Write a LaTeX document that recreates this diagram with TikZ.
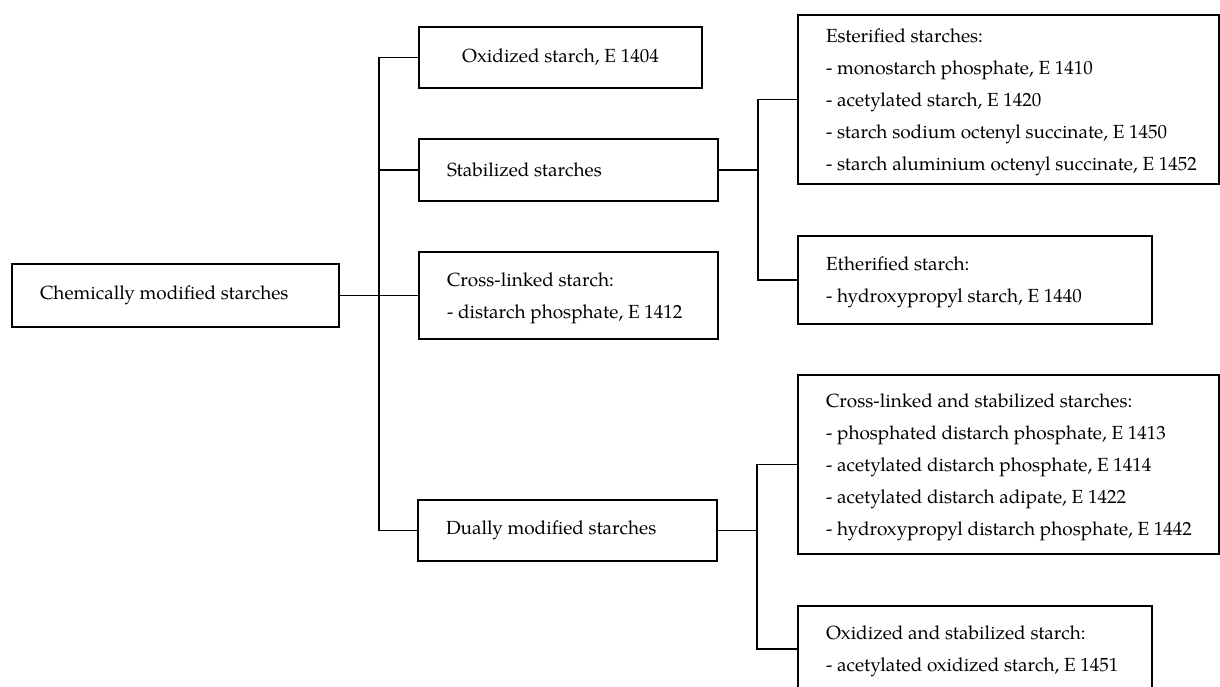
\documentclass[tikz,border=0pt]{standalone}
\usepackage{fontspec}
\setmainfont{TeX Gyre Pagella}
\newcommand{\topstrut}{\rule{0pt}{19pt}}
\begin{document}
\begin{tikzpicture}[x=1pt,y=-1pt,
  box/.style={draw, line width=1.8pt, rectangle, inner ysep=0pt, inner xsep=28pt,
    align=flush left, font=\fontsize{19}{32}\selectfont},
  cbox/.style={draw, line width=1.8pt, rectangle, inner sep=0pt, align=flush center,
    font=\fontsize{19}{32}\selectfont},
  conn/.style={line width=1.8pt}]
\useasboundingbox (0,0) rectangle (1220,687);
% level 0
\node[box, text width=271pt, minimum width=327pt, minimum height=63pt] (root) at (175.5,295.5) {Chemically modified starches};
% level 1
\node[cbox, minimum width=283pt, minimum height=61pt] (ox) at (560.5,57.5) {Oxidized starch, E 1404};
\node[box, text width=243pt, minimum width=299pt, minimum height=62pt] (stab) at (568.5,170) {Stabilized starches};
\node[box, text width=243pt, minimum width=299pt, minimum height=87pt] (cl) at (568.5,295.5) {\topstrut Cross-linked starch:\\- distarch phosphate, E 1412};
\node[box, text width=243pt, minimum width=299pt, minimum height=61pt] (dual) at (567.5,530.5) {Dually modified starches};
% level 2
\node[box, text width=365pt, minimum width=421pt, minimum height=169pt] (ester) at (1008.5,99.5) {\topstrut Esterified starches:\\\mbox{- monostarch phosphate, E 1410}\\\mbox{- acetylated starch, E 1420}\\\mbox{- starch sodium octenyl succinate, E 1450}\\\mbox{- starch aluminium octenyl succinate, E 1452}};
\node[box, text width=298pt, minimum width=354pt, minimum height=88pt] (ether) at (975,280) {\topstrut Etherified starch:\\\mbox{- hydroxypropyl starch, E 1440}};
\node[box, text width=365pt, minimum width=421pt, minimum height=179pt] (cls) at (1008.5,464.5) {\topstrut\mbox{Cross-linked and stabilized starches:}\\\mbox{- phosphated distarch phosphate, E 1413}\\\mbox{- acetylated distarch phosphate, E 1414}\\\mbox{- acetylated distarch adipate, E 1422}\\\mbox{- hydroxypropyl distarch phosphate, E 1442}};
\node[box, text width=298pt, minimum width=354pt, minimum height=86pt] (os) at (975,649) {\topstrut\mbox{Oxidized and stabilized starch:}\\\mbox{- acetylated oxidized starch, E 1451}};
% junctions
\coordinate (t) at (379,295.5);
\coordinate (s1) at (758,170);
\coordinate (s2) at (757,530.5);
% connectors
\draw[conn] (root.east) -- (t);
\draw[conn] (ox.west) -| (t);
\draw[conn] (dual.west) -| (t);
\draw[conn] (stab.west) -- (stab.west -| t);
\draw[conn] (cl.west) -- (t);
\draw[conn] (stab.east) -- (s1);
\draw[conn] (ester.west) -| (s1);
\draw[conn] (ether.west) -| (s1);
\draw[conn] (dual.east) -- (s2);
\draw[conn] (cls.west) -| (s2);
\draw[conn] (os.west) -| (s2);
\end{tikzpicture}
\end{document}
